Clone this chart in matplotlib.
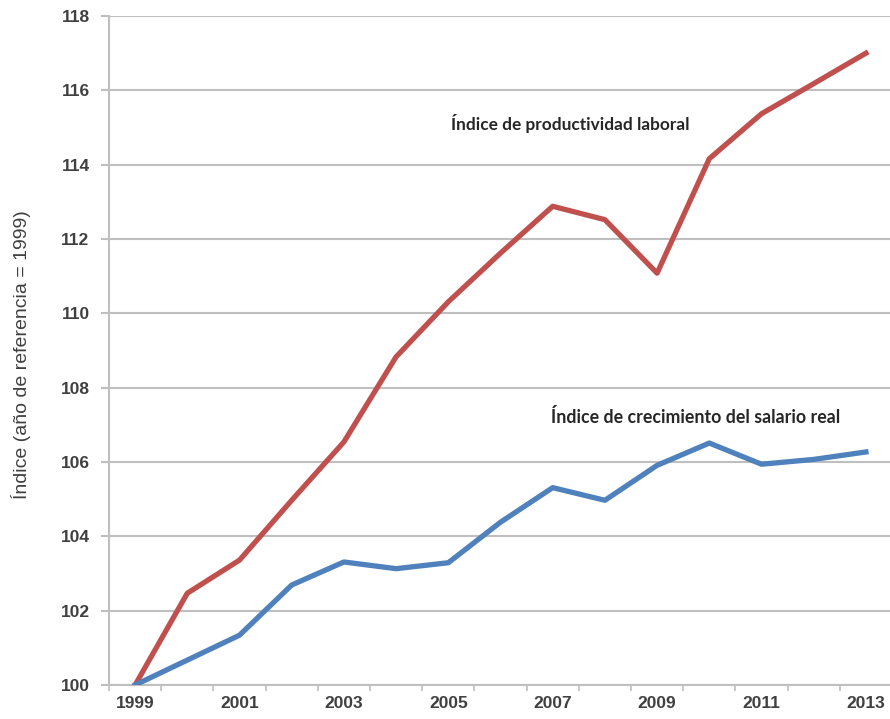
import numpy as np
import matplotlib
matplotlib.use('Agg')
import matplotlib.pyplot as plt

# datos
anios = ['1999', '2000', '2001', '2002', '2003', '2004', '2005', '2006',
         '2007', '2008', '2009', '2010', '2011', '2012', '2013']
productividad = [100.0, 102.47, 103.36, 104.97, 106.54, 108.83, 110.31, 111.62,
                 112.88, 112.52, 111.08, 114.16, 115.37, 116.18, 117.0]
salario_real = [100.0, 100.67, 101.34, 102.69, 103.31, 103.13, 103.29, 104.38,
                105.31, 104.97, 105.91, 106.51, 105.94, 106.07, 106.27]
yticks = [100, 102, 104, 106, 108, 110, 112, 114, 116, 118]

plt.rcParams['font.family'] = ['Liberation Sans', 'DejaVu Sans']

fig = plt.figure(figsize=(8.9, 7.19), dpi=100)
# área de trazado en pixeles: x 109..892, y 16..685
ax = fig.add_axes([109/890, 34/719, 783/890, 669/719])

x = np.arange(len(anios))
ax.plot(x, productividad, color='#C0504D', linewidth=3.8, solid_joinstyle='round', zorder=3)
ax.plot(x, salario_real, color='#4F81BD', linewidth=3.8, solid_joinstyle='round', zorder=3)

ax.set_xlim(-0.5, len(anios) - 0.5)
ax.set_ylim(100, 118)
ax.set_yticks(yticks)
ax.set_yticklabels([str(v) for v in yticks])
ax.yaxis.grid(True, color='#BFBFBF', linewidth=1.5)
ax.set_axisbelow(True)

# marcas del eje x entre categorías, etiquetas cada dos años
ax.set_xticks(np.arange(-0.5, len(anios), 1.0))
ax.set_xticklabels([])
ax.set_xticks(x[::2], minor=True)
ax.set_xticklabels(anios[::2], minor=True)
ax.tick_params(axis='x', which='major', length=4, width=1.2, color='#BFBFBF')
ax.tick_params(axis='x', which='minor', length=0, pad=8)
ax.tick_params(axis='y', length=6, width=1.5, color='#BFBFBF', pad=8)

for lab in ax.get_xticklabels(minor=True) + ax.get_yticklabels():
    lab.set_fontsize(12.5)
    lab.set_fontweight('bold')
    lab.set_color('#404040')

for s in ['top', 'right']:
    ax.spines[s].set_visible(False)
ax.spines['left'].set_color('#BFBFBF')
ax.spines['left'].set_linewidth(1.5)
ax.spines['bottom'].set_color('#BFBFBF')
ax.spines['bottom'].set_linewidth(1.5)

fig.text(21/890, 1 - 355/719, 'Índice (año de referencia = 1999)', rotation=90,
         ha='center', va='center', fontsize=14, color='#404040')

ax.text(8.33, 115.12, 'Índice de productividad laboral', ha='center', va='center',
        fontsize=12.4, fontweight='bold', color='#262626', family=['Lato', 'DejaVu Sans'])
ax.text(10.73, 107.21, 'Índice de crecimiento del salario real', ha='center', va='center',
        fontsize=12.8, fontweight='bold', color='#262626', family=['Lato', 'DejaVu Sans'])

fig.savefig('out.png', dpi=100)
